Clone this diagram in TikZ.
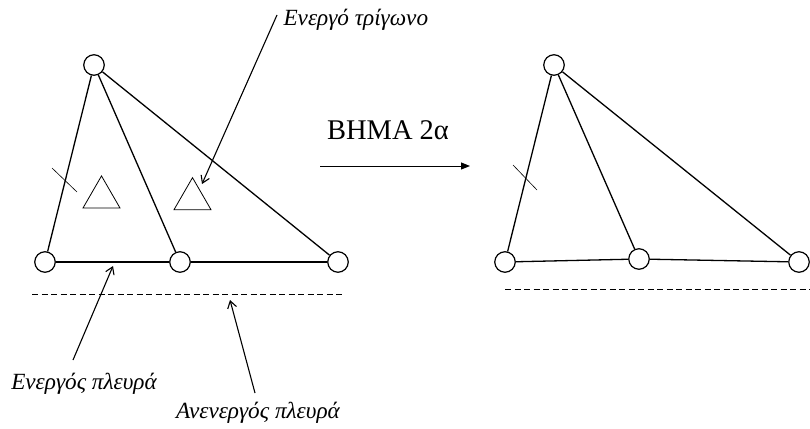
\documentclass[tikz,border=0pt]{standalone}
\usepackage{fontspec}
\setmainfont{Liberation Serif}
\usepackage{tikz}
\usetikzlibrary{arrows.meta,shapes.geometric}

\begin{document}
\begin{tikzpicture}[x=1pt, y=-1pt,
  vert/.style={circle, draw, fill=white, line width=1.2pt, minimum size=20.5pt,
    inner sep=0pt},
  edge/.style={line width=1.3pt},
  tick/.style={line width=0.6pt},
  face/.style={regular polygon, regular polygon sides=3, draw, line width=0.8pt,
    minimum size=42.7pt, inner sep=0pt},
  base/.style={dash pattern=on 6pt off 3.5pt, line width=0.8pt},
  lbl/.style={font=\fontsize{23.2}{27}\selectfont\itshape},
  arr/.style={-{Straight Barb[length=7pt,width=9pt]}, line width=1.1pt},
  stepline/.style={-{Triangle[length=9pt,width=7pt]}, line width=1pt},
]
  \useasboundingbox (0,0) rectangle (810,428);

  % Left mesh
  \node[vert] (A1) at (94,65) {};
  \node[vert] (B1) at (45,262) {};
  \node[vert] (C1) at (180,262) {};
  \node[vert] (D1) at (338,262) {};
  \draw[edge] (A1) -- (B1);
  \draw[edge] (A1) -- (C1);
  \draw[edge] (A1) -- (D1);
  \draw[edge] (B1) -- (C1);
  \draw[edge] (C1) -- (D1);
  \draw[base] (32,294) -- (343,294);
  \draw[tick] (52,168) -- (77,192);
  \node[face] (T1) at (101.5,197.3) {};
  \node[face] (T2) at (192.5,199) {};

  % Right mesh
  \node[vert] (A2) at (554,65) {};
  \node[vert] (B2) at (505,262) {};
  \node[vert] (C2) at (639,259) {};
  \node[vert] (D2) at (799,262) {};
  \draw[edge] (A2) -- (B2);
  \draw[edge] (A2) -- (C2);
  \draw[edge] (A2) -- (D2);
  \draw[edge] (B2) -- (C2);
  \draw[edge] (C2) -- (D2);
  \draw[base] (505,289) -- (810,289);
  \draw[tick] (513,165) -- (537,190);

  % Step arrow
  \node[font=\fontsize{28.5}{32}\selectfont] (step) at (388,130) {ΒΗΜΑ 2α};
  \coordinate (s1) at (320,166);
  \coordinate (s2) at (470,166);
  \draw[stepline] (s1) -- (s2);

  % Labels
  \node[lbl, anchor=west] (Ltri) at (280,20) {Ενεργό τρίγωνο};
  \node[lbl] (Lact) at (84,384) {Ενεργός πλευρά};
  \node[lbl] (Lina) at (258,413) {Ανενεργός πλευρά};
  \coordinate (p1) at (277,15);
  \coordinate (q1) at (202,184);
  \coordinate (p2) at (73,360);
  \coordinate (q2) at (113,266);
  \coordinate (p3) at (255,393);
  \coordinate (q3) at (230,300);
  \draw[arr] (p1) -- (q1);
  \draw[arr] (p2) -- (q2);
  \draw[arr] (p3) -- (q3);
\end{tikzpicture}
\end{document}
